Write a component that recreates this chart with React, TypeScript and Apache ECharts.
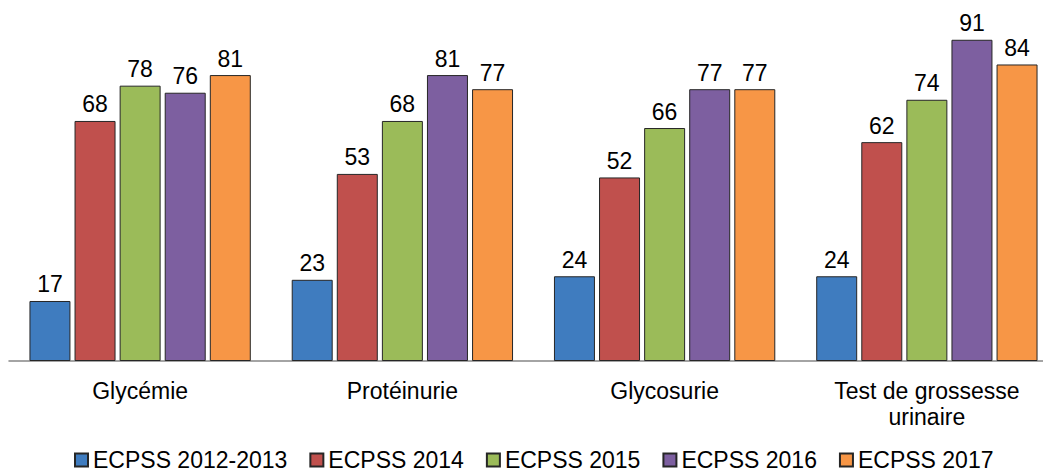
import React, { useEffect, useRef } from "react";
import * as echarts from "echarts";

const categories = ["Glycémie", "Protéinurie", "Glycosurie", "Test de grossesse\nurinaire"];
const seriesNames = ["ECPSS 2012-2013", "ECPSS 2014", "ECPSS 2015", "ECPSS 2016", "ECPSS 2017"];
const values2012 = [17, 23, 24, 24];
const values2014 = [68, 53, 52, 62];
const values2015 = [78, 68, 66, 74];
const values2016 = [76, 81, 77, 91];
const values2017 = [81, 77, 77, 84];
const colors = ["#3F7CBF", "#C0504D", "#9BBB59", "#7D5FA0", "#F79646"];

const FONT = '"Liberation Sans", Arial, sans-serif';

export default function App() {
  const ref = useRef<HTMLDivElement>(null);
  useEffect(() => {
    if (!ref.current) return;
    const chart = echarts.init(ref.current, null, { renderer: "svg" });
    const allValues = [values2012, values2014, values2015, values2016, values2017];
    chart.setOption({
      animation: false,
      textStyle: { fontFamily: FONT },
      legend: {
        left: 69,
        top: 443,
        itemWidth: 13,
        itemHeight: 13,
        itemGap: 22,
        icon: "rect",
        textStyle: { fontSize: 23, lineHeight: 24, color: "#000", fontFamily: FONT },
        data: seriesNames,
      },
      grid: {
        left: 9,
        top: 8,
        width: 1049,
        bottom: 111,
        containLabel: false,
        outerBoundsMode: "none",
      },
      xAxis: {
        type: "category",
        data: categories,
        axisLine: { lineStyle: { color: "#868686", width: 1.5 } },
        axisTick: { show: false },
        axisLabel: {
          fontSize: 23,
          color: "#000",
          fontFamily: FONT,
          margin: 17,
          lineHeight: 26,
          interval: 0,
        },
      },
      yAxis: {
        type: "value",
        min: 0,
        max: 100,
        show: false,
        splitLine: { show: false },
      },
      series: allValues.map((vals, i) => ({
        name: seriesNames[i],
        type: "bar",
        data: vals,
        barGap: "10%",
        barCategoryGap: "15.6%",
        itemStyle: { color: colors[i], borderColor: "#262626", borderWidth: 1 },
        label: {
          show: true,
          position: "top",
          distance: 5,
          fontSize: 23,
          color: "#000",
          fontFamily: FONT,
        },
      })),
    });
    return () => chart.dispose();
  }, []);
  return (
    <div
      ref={ref}
      style={{ position: "fixed", left: 0, top: 0, width: 1043, height: 472, background: "#fff" }}
    />
  );
}
